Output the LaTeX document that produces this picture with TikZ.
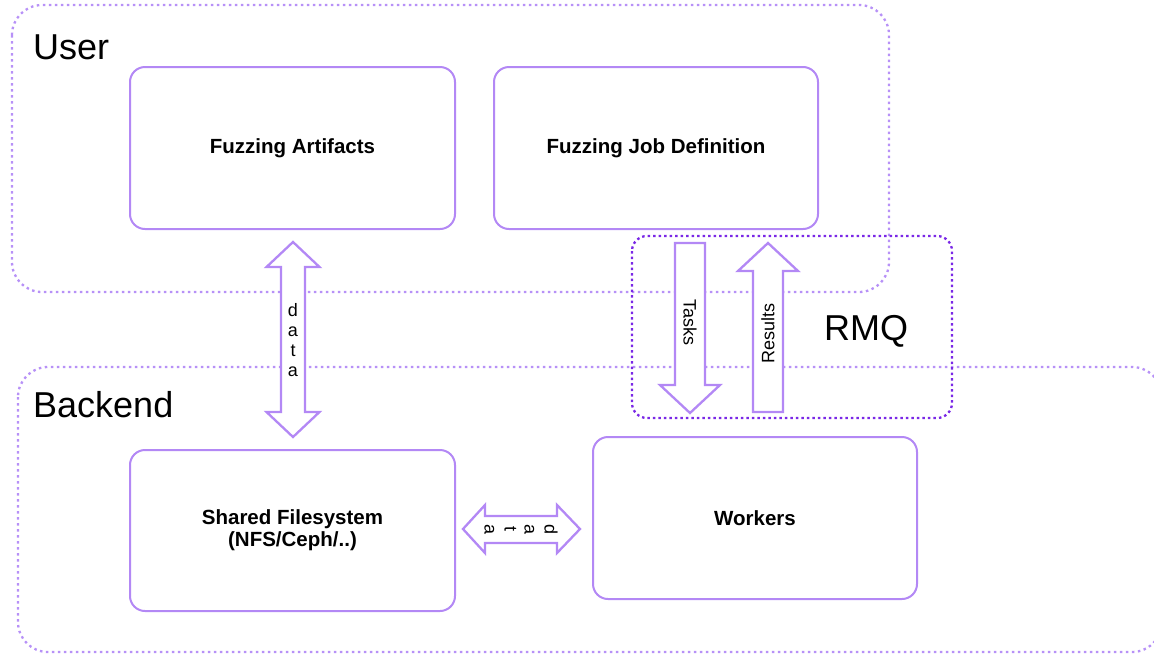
\documentclass[tikz,border=0pt]{standalone}
\usepackage{fontspec}
\setmainfont{Liberation Sans}
\usetikzlibrary{calc}
\definecolor{boxline}{RGB}{179,136,245}
\definecolor{zoneline}{RGB}{183,145,247}
\definecolor{queueline}{RGB}{122,40,230}
\tikzset{
  zone/.style={draw=zoneline, line width=2.3pt, dash pattern=on 2.5pt off 3.5pt, rounded corners=30pt},
  queue/.style={draw=queueline, line width=2.3pt, dash pattern=on 2.5pt off 3pt, rounded corners=15pt},
  comp/.style={draw=boxline, line width=2pt, rounded corners=15pt, fill=white},
  blockarrow/.style={draw=boxline, line width=2.3pt, fill=white, line join=miter},
  comptext/.style={font=\fontsize{20.5}{22}\selectfont\bfseries, align=center},
  zonetext/.style={font=\fontsize{36}{40}\selectfont, anchor=base west, inner sep=0pt},
  arrowtext/.style={font=\fontsize{18}{20}\selectfont, align=center, inner sep=0pt},
}
\begin{document}
\begin{tikzpicture}[x=1pt, y=-1pt]
\useasboundingbox (0,0) rectangle (1154,654);

% zones
\begin{scope}
  \clip (0,0) rectangle (1154,654);
  \draw[zone] (12,5) rectangle (889,292);
  \draw[zone] (18,367) rectangle (1162,652);
\end{scope}
\node[zonetext] (user) at (33,59) {User};
\node[zonetext] (backend) at (33,417) {Backend};

% components
\draw[comp] (130,67) rectangle (455,229);
\node[comptext] (artifacts) at (292.5,148) {Fuzzing Artifacts};
\draw[comp] (494,67) rectangle (818,229);
\node[comptext] (jobdef) at (656,148) {Fuzzing Job Definition};
\draw[comp] (130,450) rectangle (455,611);
\node[comptext] (sharedfs) at (292.5,530.5) {Shared Filesystem\\(NFS/Ceph/..)};
\draw[comp] (593,437) rectangle (917,599);
\node[comptext] (workers) at (755,518) {Workers};

% data exchange between artifacts and shared filesystem
\draw[blockarrow] (293,242) -- (319.5,267) -- (305,267) -- (305,412) -- (319.5,412)
  -- (293,437) -- (266.5,412) -- (281,412) -- (281,267) -- (266.5,267) -- cycle;
\node[arrowtext] (data1) at (293,340) {d\\a\\t\\a};

% data exchange between shared filesystem and workers
\draw[blockarrow] (463,529) -- (485,505) -- (485,516) -- (557,516) -- (557,505)
  -- (580,529) -- (557,553) -- (557,543) -- (485,543) -- (485,553) -- cycle;
\node[arrowtext, rotate=-90] (data2) at (521,529) {d\\a\\t\\a};

% message queue
\draw[queue] (632,236) rectangle (952,418);
\node[zonetext] (rmq) at (824,340) {RMQ};

\draw[blockarrow] (675,243) -- (705,243) -- (705,385) -- (720,385) -- (690,413)
  -- (660,385) -- (675,385) -- cycle;
\node[arrowtext, rotate=-90] (tasks) at (690,322) {Tasks};

\draw[blockarrow] (753,412) -- (783,412) -- (783,271) -- (798,271) -- (768,243)
  -- (738,271) -- (753,271) -- cycle;
\node[arrowtext, rotate=90] (results) at (768,333) {Results};
\end{tikzpicture}
\end{document}
